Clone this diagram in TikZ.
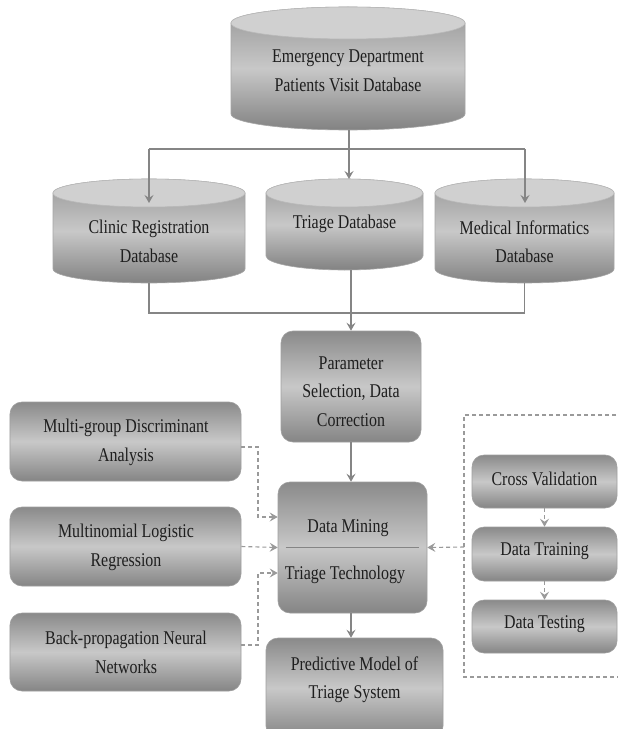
\documentclass[tikz,border=0pt]{standalone}
\usepackage{fontspec}
\setmainfont{Liberation Serif}
\usetikzlibrary{arrows.meta,calc}
\definecolor{ln}{HTML}{858585}
\definecolor{dln}{HTML}{9A9A9A}
\definecolor{bdark}{HTML}{8A8A8A}
\definecolor{bdark2}{HTML}{858585}
\definecolor{blight}{HTML}{C8C8C8}
\definecolor{ctop}{HTML}{D0D0D0}
\definecolor{cdark}{HTML}{979797}
\definecolor{cdark2}{HTML}{828282}
\definecolor{clight}{HTML}{C8C8C8}
\definecolor{txtc}{HTML}{1E1E1E}
\tikzset{
  lbl/.style={align=center, font=\fontsize{16}{23.4}\selectfont, text=txtc, inner sep=0pt, yscale=1.22},
  rbox/.style={rounded corners=12bp, draw=gray!75, line width=0.6bp, inner sep=0pt,
    top color=bdark, bottom color=bdark2, middle color=blight},
  holder/.style={inner sep=0pt, outer sep=0pt},
  cylbody/.style={top color=cdark, bottom color=cdark2, middle color=clight, draw=gray!70, line width=0.6bp},
  cyltop/.style={fill=ctop, draw=gray!55, line width=0.6bp},
  conn/.style={draw=ln, line width=1.3bp},
  arr/.style={conn, -{Stealth[length=8bp,width=9bp,inset=3bp]}},
  dsh/.style={draw=dln, line width=1.1bp, dash pattern=on 4bp off 3bp},
  darr/.style={dsh, -{Stealth[length=8bp,width=9bp,inset=3bp]}},
}
\newcommand\dbcyl[5]{%
  \pgfmathsetmacro\rx{(#3-#1)/2}%
  \pgfmathsetmacro\cx{(#1+#3)/2}%
  \shade[cylbody] (#1,{-(#2+#5)}) -- (#1,{-(#4-#5)})
     arc[start angle=180,end angle=360,x radius=\rx,y radius=#5]
     -- (#3,{-(#2+#5)})
     arc[start angle=0,end angle=180,x radius=\rx,y radius=#5] -- cycle;
  \path[cyltop] (\cx,{-(#2+#5)}) ellipse[x radius=\rx, y radius=#5];
}
\begin{document}
\begin{tikzpicture}[x=1bp,y=1bp]
\useasboundingbox (0,0) rectangle (618,-729);
\clip (0,0) rectangle (618,-729);
\fill[white] (0,0) rectangle (618,-729);

% ---------- cylinders ----------
\dbcyl{231}{7}{465}{130}{16}
\dbcyl{53}{179}{245}{283}{14}
\dbcyl{266}{179}{423}{270}{14}
\dbcyl{435}{179}{614}{283}{14}

\node[holder, minimum width=234bp, minimum height=123bp] (emerg) at (348,-68.5) {};
\node[lbl] (emerg-t) at (348,-71) {Emergency Department\\Patients Visit Database};
\node[holder, minimum width=192bp, minimum height=104bp] (clinic) at (149,-231) {};
\node[lbl] (clinic-t) at (149,-241.5) {Clinic Registration\\Database};
\node[holder, minimum width=157bp, minimum height=91bp] (triage) at (344.5,-224.5) {};
\node[lbl] (triage-t) at (344.5,-224) {Triage Database};
\node[holder, minimum width=179bp, minimum height=104bp] (medical) at (524.5,-231) {};
\node[lbl] (medical-t) at (524.5,-241.5) {Medical Informatics\\Database};

% ---------- boxes ----------
\node[rbox, minimum width=140bp, minimum height=111bp] (param) at (351,-386.5) {};
\node[lbl] (param-t) at (351,-391.5) {Parameter\\Selection, Data\\Correction};
\node[rbox, minimum width=149bp, minimum height=131bp] (dm) at (352.5,-547.5) {};
\node[lbl] (dm-a) at (348,-528) {Data Mining};
\node[lbl] (dm-b) at (345,-575) {Triage Technology};
\node[rbox, minimum width=177bp, minimum height=100bp] (pred) at (354.5,-688) {};
\node[lbl] (pred-t) at (354.5,-679.5) {Predictive Model of\\Triage System};

\node[rbox, minimum width=231bp, minimum height=79bp] (mg) at (125.5,-441.5) {};
\node[lbl] (mg-t) at (126,-442.5) {Multi-group Discriminant\\Analysis};
\node[rbox, minimum width=231bp, minimum height=79bp] (ml) at (125.5,-546.5) {};
\node[lbl] (ml-t) at (126,-547.5) {Multinomial Logistic\\Regression};
\node[rbox, minimum width=231bp, minimum height=78bp] (bp) at (125.5,-652) {};
\node[lbl] (bp-t) at (126,-652.5) {Back-propagation Neural\\Networks};

\node[rbox, minimum width=145bp, minimum height=53bp] (cv) at (544.5,-481.5) {};
\node[lbl] (cv-t) at (544.5,-479) {Cross Validation};
\node[rbox, minimum width=145bp, minimum height=54bp] (dt) at (544.5,-554) {};
\node[lbl] (dt-t) at (544.5,-551) {Data Training};
\node[rbox, minimum width=145bp, minimum height=53bp] (ds) at (544.5,-626.5) {};
\node[lbl] (ds-t) at (544.5,-624) {Data Testing};

% ---------- connectors (solid) ----------
\coordinate (split) at (349,-149);
\coordinate (clinic-in) at (149,-203);
\coordinate (medical-in) at (525,-203);
\coordinate (merge) at (352,-313);
\draw[arr] (emerg.south -| split) -- (split |- triage.north);
\draw[arr] (split -| clinic-in) -- (clinic-in);
\draw[arr] (split -| medical-in) -- (medical-in);
\draw[conn] (split -| clinic-in) -- (split -| medical-in);
\draw[conn] (clinic.south) |- (merge) -| (medical.south);
\draw[arr] (param.north |- triage.south) -- (param.north);
\draw[arr] (param.south) -- (param.south |- dm.north);
\draw[arr] (dm.south -| param.south) -- (param.south |- pred.north);
\draw[conn, line width=1.1bp] ($(dm.west)+(8,0)$) -- ($(dm.east)+(-8,0)$);

% ---------- connectors (dashed) ----------
\coordinate (lbus) at (258,0);
\coordinate (dm-in1) at ($(dm.west)+(0,30.5)$);
\coordinate (dm-in3) at ($(dm.west)+(0,-25.5)$);
\draw[darr] ($(mg.east)+(0,-5.5)$) -| (lbus |- dm-in1) -- (dm-in1);
\draw[darr] (ml.east) -- (dm.west);
\draw[darr] ($(bp.east)+(0,7)$) -| (lbus |- dm-in3) -- (dm-in3);

\coordinate (brk) at (464,-547);
\draw[dsh] (630,-415) -| (464,-677) -- (630,-677);
\draw[darr] (brk) -- (dm.east);
\draw[darr] (cv.south) -- (dt.north);
\draw[darr] (dt.south) -- (ds.north);
\end{tikzpicture}
\end{document}
